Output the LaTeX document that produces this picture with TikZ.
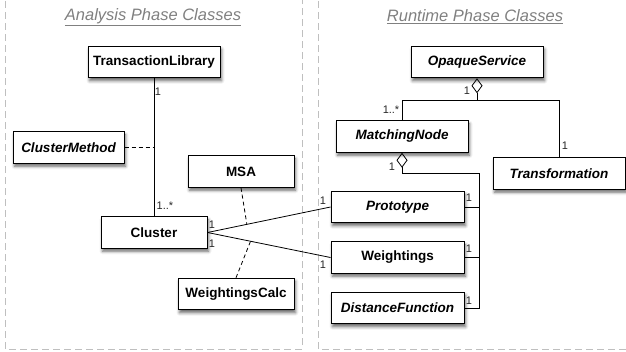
\documentclass[tikz,border=0pt]{standalone}
\usepackage{fontspec}
\setmainfont{Liberation Sans}
\usetikzlibrary{shadows.blur,arrows.meta}
\begin{document}
\begin{tikzpicture}[x=1pt,y=-1pt,
  cls/.style={draw=black,line width=1pt,fill=white,minimum width=#1,minimum height=31.5pt,inner sep=0pt,
    font=\fontsize{13.5}{15}\selectfont\bfseries,
    blur shadow={shadow xshift=1.5pt,shadow yshift=-3pt,shadow blur radius=3pt,shadow opacity=60}},
  abs/.style={font=\fontsize{13.5}{15}\selectfont\bfseries\itshape},
  lbl/.style={font=\fontsize{11}{12}\selectfont,inner sep=0pt,text=black!85},
  panel/.style={draw=black!25,line width=0.8pt,dash pattern=on 7pt off 4pt},
  ttl/.style={font=\fontsize{16.5}{18}\selectfont\itshape,text=black!50},
  conn/.style={line width=0.8pt},
  dconn/.style={line width=0.8pt,dash pattern=on 4pt off 3pt},
  agg/.style={line width=0.8pt,{Diamond[open,length=15pt,width=11pt,line width=0.8pt]}-}
]
\useasboundingbox (0,0) rectangle (626,351);
% panels
\draw[panel] (5,-10) -- (5,349) -- (302,349) -- (302,-10);
\draw[panel] (318,-10) -- (318,349) -- (640,349);
\node[ttl] (t1) at (153,17) {\underline{Analysis Phase Classes}};
\node[ttl] (t2) at (475,17) {\underline{Runtime Phase Classes}};
% analysis classes
\node[cls=132pt] (TL) at (154,62) {TransactionLibrary};
\node[cls=111pt,abs] (CM) at (68.5,147.5) {ClusterMethod};
\node[cls=106pt] (MSA) at (241,171.5) {MSA};
\node[cls=106pt] (C) at (154,232.5) {Cluster};
\node[cls=116pt] (WC) at (236,294) {WeightingsCalc};
% runtime classes
\node[cls=132pt,abs] (OS) at (477,62) {OpaqueService};
\node[cls=132pt,abs] (MN) at (402,136.5) {MatchingNode};
\node[cls=132pt,abs] (TF) at (559,173.5) {Transformation};
\node[cls=133pt,abs] (P) at (397.5,207) {Prototype};
\node[cls=133pt] (W) at (397.5,257.5) {Weightings};
\node[cls=133pt,abs] (DF) at (397.5,308) {DistanceFunction};
% analysis connectors
\draw[conn] (TL.south) -- (C.north);
\draw[dconn] (CM.east) -- (TL.south |- CM.east);
\draw[conn] (C.east) -- coordinate[pos=0.32] (cp) (P.west);
\draw[conn] (C.east) -- coordinate[pos=0.35] (cw) (W.west);
\draw[dconn] (MSA.south) -- (cp);
\draw[dconn] (WC.north) -- (cw);
\node[lbl] at (158,92) {1};
\node[lbl] at (165,206) {1..*};
\node[lbl] at (212,225) {1};
\node[lbl] at (212,244) {1};
\node[lbl] at (323,201) {1};
\node[lbl] at (323,265) {1};
% runtime connectors
\coordinate (oj) at ([yshift=-22.5pt]OS.south);
\draw[agg] (OS.south) -- (oj);
\draw[conn] (oj) -| (MN.north);
\draw[conn] (oj) -| (TF.north);
\coordinate (mj) at ([yshift=-21pt]MN.south);
\coordinate (bus) at (479,173);
\draw[agg] (MN.south) -- (mj) -| (bus |- DF.east) -- (DF.east);
\draw[conn] (P.east) -- (bus |- P.east);
\draw[conn] (W.east) -- (bus |- W.east);
\node[lbl] at (467,91) {1};
\node[lbl] at (391,110) {1..*};
\node[lbl] at (565,146) {1};
\node[lbl] at (392,167) {1};
\node[lbl] at (469,198) {1};
\node[lbl] at (469,249) {1};
\node[lbl] at (469,301) {1};
\end{tikzpicture}
\end{document}
